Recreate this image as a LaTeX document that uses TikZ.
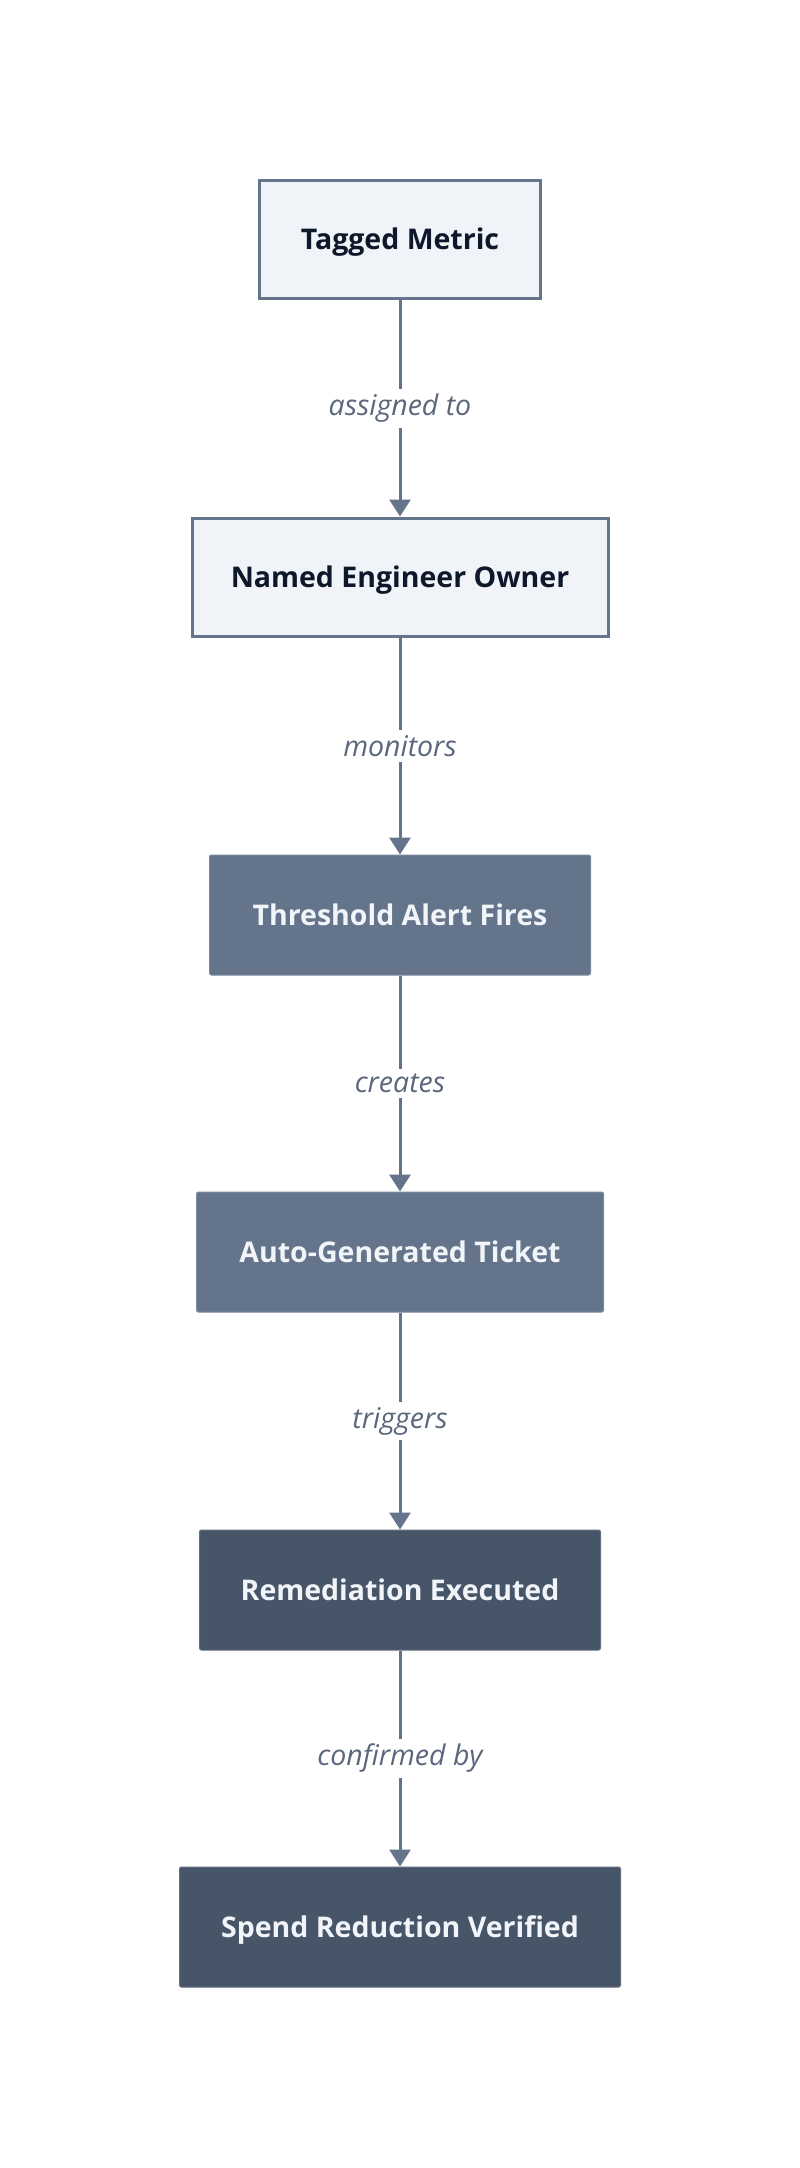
\documentclass[tikz,border=0pt]{standalone}
\usepackage{fontspec}
\setmainfont{Open Sans}
\usetikzlibrary{arrows.meta}
\definecolor{slateline}{HTML}{64748B}
\definecolor{lightfill}{HTML}{F0F4F8}
\definecolor{midfill}{HTML}{64748B}
\definecolor{darkfill}{HTML}{475569}
\definecolor{darktext}{HTML}{0F172A}
\definecolor{lighttext}{HTML}{F1F5F9}
\definecolor{labeltext}{HTML}{5C677D}
\tikzset{
  boxbase/.style={rectangle, minimum height=118pt, inner sep=0pt, text height=20.4pt, text depth=0pt, font=\fontsize{28.5}{34}\selectfont\bfseries},
  lightbox/.style={boxbase, draw=slateline, line width=3pt, fill=lightfill, text=darktext},
  midbox/.style={boxbase, draw=midfill!85!white, line width=1pt, fill=midfill, text=lighttext, rounded corners=2pt, minimum height=120pt},
  darkbox/.style={boxbase, draw=darkfill!85!white, line width=1pt, fill=darkfill, text=lighttext, rounded corners=2pt, minimum height=120pt},
  flow/.style={draw=slateline, line width=3pt, -{Triangle[length=17pt,width=21pt]}},
  lbl/.style={midway, fill=white, inner sep=5pt, text=labeltext, font=\fontsize{28.5}{34}\selectfont\itshape}
}
\begin{document}
\begin{tikzpicture}[x=1pt,y=-1pt]
\useasboundingbox[fill=white] (0,0) rectangle (800,2168);
\node[lightbox, minimum width=281pt] (a) at (400,239.5) {Tagged Metric};
\node[lightbox, minimum width=416pt] (b) at (400,577) {Named Engineer Owner};
\node[midbox, minimum width=381pt] (c) at (400,915) {Threshold Alert Fires};
\node[midbox, minimum width=407pt] (d) at (400,1252) {Auto-Generated Ticket};
\node[darkbox, minimum width=401pt] (e) at (400,1590) {Remediation Executed};
\node[darkbox, minimum width=441pt] (f) at (400,1927) {Spend Reduction Verified};
\draw[flow] (a.south) -- node[lbl] {assigned to} (b.north);
\draw[flow] (b.south) -- node[lbl] {monitors} (c.north);
\draw[flow] (c.south) -- node[lbl] {creates} (d.north);
\draw[flow] (d.south) -- node[lbl] {triggers} (e.north);
\draw[flow] (e.south) -- node[lbl] {confirmed by} (f.north);
\end{tikzpicture}
\end{document}
